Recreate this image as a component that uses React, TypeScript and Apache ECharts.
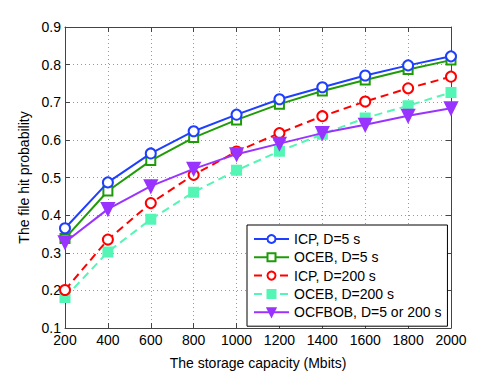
import React, { useEffect, useRef } from "react";
import * as echarts from "echarts";

const categories = [200, 400, 600, 800, 1000, 1200, 1400, 1600, 1800, 2000];
const icpD5 = [0.365, 0.487, 0.564, 0.623, 0.667, 0.708, 0.740, 0.771, 0.798, 0.822];
const ocebD5 = [0.338, 0.464, 0.545, 0.606, 0.653, 0.695, 0.730, 0.759, 0.787, 0.812];
const icpD200 = [0.201, 0.335, 0.432, 0.507, 0.569, 0.618, 0.663, 0.702, 0.737, 0.768];
const ocebD200 = [0.181, 0.302, 0.389, 0.461, 0.519, 0.570, 0.615, 0.658, 0.691, 0.726];
const ocfbob = [0.328, 0.416, 0.477, 0.523, 0.562, 0.590, 0.618, 0.640, 0.664, 0.684];
const seriesNames = ["ICP, D=5 s", "OCEB, D=5 s", "ICP, D=200 s", "OCEB, D=200 s", "OCFBOB, D=5 or 200 s"];

const FONT = "'Liberation Sans', Arial, Helvetica, sans-serif";

export default function App() {
  const ref = useRef<HTMLDivElement>(null);
  useEffect(() => {
    if (!ref.current) return;
    const chart = echarts.init(ref.current, undefined, { renderer: "svg" });
    const pair = (arr: number[]) => arr.map((v, i) => [categories[i], v]);
    const gridLine = { show: true, lineStyle: { color: "#999", type: [1, 3], width: 1 } };
    const axisLine = { show: true, onZero: false, lineStyle: { color: "#444", width: 1 } };
    const tick = { show: true, inside: true, length: 5, lineStyle: { color: "#444" } };
    const mk = (name: string, data: number[], color: string, symbol: string, opts: any = {}) => ({
      name,
      type: "line",
      data: pair(data),
      symbol,
      symbolSize: opts.size ?? 9,
      symbolRotate: opts.rotate ?? 0,
      lineStyle: { color, width: 2, type: opts.dashed ? [8, 5] : "solid" },
      itemStyle: { color, borderColor: color, borderWidth: 2 },
      z: opts.z ?? 2,
    });
    chart.setOption({
      animation: false,
      backgroundColor: "#fff",
      textStyle: { fontFamily: FONT },
      grid: { left: 65, right: 47, top: 27, bottom: 43, containLabel: false },
      legend: {
        orient: "vertical",
        left: 247,
        top: 225,
        padding: [6, 6, 6, 6],
        itemGap: 2.3,
        itemWidth: 35,
        itemHeight: 10,
        itemTextGap: 4,
        backgroundColor: "#fff",
        borderColor: "#000",
        borderWidth: 1,
        textStyle: { fontSize: 14, color: "#000", fontFamily: FONT, lineHeight: 16 },
        data: seriesNames,
      },
      xAxis: [
        {
          type: "value",
          min: 200,
          max: 2000,
          interval: 200,
          name: "The storage capacity (Mbits)",
          nameLocation: "middle",
          nameGap: 28,
          nameTextStyle: { fontSize: 14, color: "#000", fontFamily: FONT },
          axisLine,
          axisTick: tick,
          axisLabel: { fontSize: 14, color: "#000", margin: 5, fontFamily: FONT, formatter: (v: number) => String(v) },
          splitLine: gridLine,
        },
        {
          type: "value",
          position: "top",
          min: 200,
          max: 2000,
          interval: 200,
          axisLine,
          axisTick: tick,
          axisLabel: { show: false },
          splitLine: { show: false },
        },
      ],
      yAxis: [
        {
          type: "value",
          min: 0.1,
          max: 0.9,
          interval: 0.1,
          name: "The file hit probability",
          nameLocation: "middle",
          nameGap: 29,
          nameTextStyle: { fontSize: 14, color: "#000", fontFamily: FONT },
          axisLine,
          axisTick: tick,
          axisLabel: { fontSize: 14, color: "#000", margin: 4, fontFamily: FONT, formatter: (v: number) => v.toFixed(1) },
          splitLine: gridLine,
        },
        {
          type: "value",
          position: "right",
          min: 0.1,
          max: 0.9,
          interval: 0.1,
          axisLine,
          axisTick: tick,
          axisLabel: { show: false },
          splitLine: { show: false },
        },
      ],
      series: [
        mk(seriesNames[0], icpD5, "#1f3fff", "emptyCircle", { size: 10, z: 5 }),
        mk(seriesNames[1], ocebD5, "#1e9c08", "emptyRect", { size: 9, z: 4 }),
        mk(seriesNames[2], icpD200, "#ff0000", "emptyCircle", { size: 10, dashed: true, z: 3 }),
        mk(seriesNames[3], ocebD200, "#55f5b5", "rect", { size: 9, dashed: true, z: 2 }),
        mk(seriesNames[4], ocfbob, "#9933ff", "triangle", { size: 12, rotate: 180, z: 6 }),
      ],
    });
    return () => chart.dispose();
  }, []);
  return <div ref={ref} style={{ width: 498, height: 375, position: "absolute", left: 0, top: 0 }} />;
}
